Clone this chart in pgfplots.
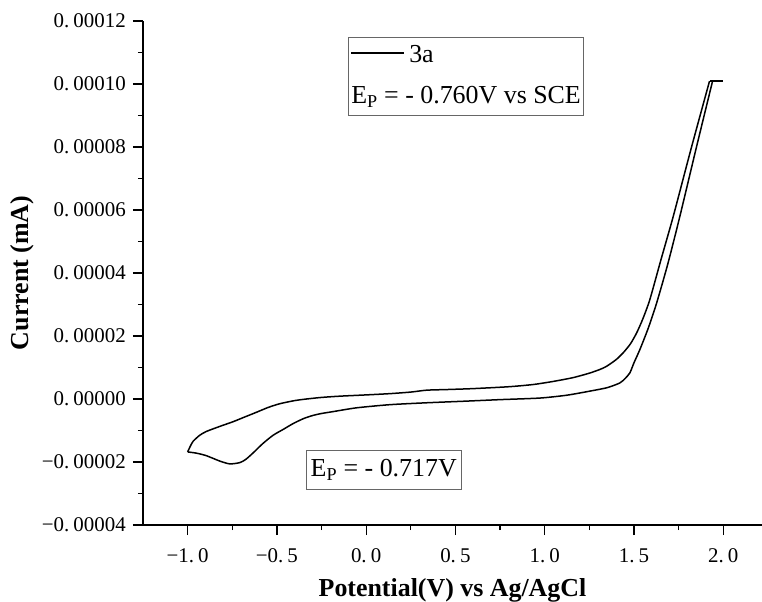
\documentclass[border=0pt]{standalone}
\usepackage{pgfplots}
\pgfplotsset{compat=1.18}
\usepackage{pgfplotstable}
\usepackage{fontspec}
\setmainfont{Liberation Serif}
\pgfplotstableread{
x y
-1.0 -1.68e-5
-0.985 -1.50e-5
-0.969 -1.34e-5
-0.932 -1.15e-5
-0.895 -1.03e-5
-0.82 -0.87e-5
-0.745 -0.72e-5
-0.68 -0.57e-5
-0.614 -0.42e-5
-0.55 -0.27e-5
-0.484 -0.15e-5
-0.40 -0.05e-5
-0.334 0.0
-0.25 0.05e-5
-0.147 0.09e-5
0.0 0.13e-5
0.133 0.17e-5
0.25 0.22e-5
0.338 0.28e-5
0.45 0.30e-5
0.6 0.33e-5
0.8 0.39e-5
0.936 0.46e-5
1.05 0.56e-5
1.16 0.68e-5
1.25 0.82e-5
1.31 0.94e-5
1.347 1.04e-5
1.40 1.25e-5
1.44 1.47e-5
1.48 1.75e-5
1.515 2.10e-5
1.55 2.55e-5
1.589 3.16e-5
1.65 4.40e-5
1.72 5.80e-5
1.82 7.95e-5
1.923 1.009e-4
}\uppertab
\pgfplotstableread{
x y
1.923 1.009e-4
1.998 1.009e-4
1.94 1.009e-4
}\toptab
\pgfplotstableread{
x y
1.94 1.009e-4
1.85 8.00e-5
1.757 5.80e-5
1.69 4.30e-5
1.627 3.05e-5
1.58 2.25e-5
1.533 1.57e-5
1.50 1.15e-5
1.477 0.83e-5
1.45 0.65e-5
1.421 0.51e-5
1.35 0.36e-5
1.253 0.25e-5
1.123 0.12e-5
0.973 0.03e-5
0.75 -0.02e-5
0.55 -0.07e-5
0.338 -0.12e-5
0.133 -0.18e-5
-0.054 -0.28e-5
-0.185 -0.40e-5
-0.25 -0.46e-5
-0.297 -0.52e-5
-0.35 -0.62e-5
-0.409 -0.78e-5
-0.46 -0.95e-5
-0.521 -1.15e-5
-0.58 -1.42e-5
-0.633 -1.71e-5
-0.675 -1.92e-5
-0.708 -2.02e-5
-0.764 -2.06e-5
-0.82 -1.97e-5
-0.895 -1.80e-5
-0.95 -1.72e-5
-1.0 -1.68e-5
}\lowertab
\begin{document}
\begin{tikzpicture}
\begin{axis}[
  scale only axis, width=619bp, height=504bp,
  xmin=-1.25, xmax=2.217, ymin=-0.00004, ymax=0.00012,
  axis lines*=left,
  axis line style={line width=1.2bp},
  tick style={black, line width=1.2bp},
  tick align=outside,
  major tick length=10bp, minor tick length=5bp,
  scaled ticks=false,
  xtick={-1,-0.5,0,0.5,1,1.5,2},
  xticklabels={−1.\hspace{0.2em}0,−0.\hspace{0.2em}5,0.\hspace{0.2em}0,0.\hspace{0.2em}5,1.\hspace{0.2em}0,1.\hspace{0.2em}5,2.\hspace{0.2em}0},
  minor xtick={-0.75,-0.25,0.25,0.75,1.25,1.75},
  ytick={-0.00004,-0.00002,0,0.00002,0.00004,0.00006,0.00008,0.0001,0.00012},
  yticklabels={−0.\hspace{0.2em}00004,−0.\hspace{0.2em}00002,0.\hspace{0.2em}00000,0.\hspace{0.2em}00002,0.\hspace{0.2em}00004,0.\hspace{0.2em}00006,0.\hspace{0.2em}00008,0.\hspace{0.2em}00010,0.\hspace{0.2em}00012},
  minor ytick={-0.00003,-0.00001,0.00001,0.00003,0.00005,0.00007,0.00009,0.00011},
  ticklabel style={font=\fontsize{21}{24}\selectfont, inner sep=0pt},
  yticklabel style={anchor=east, xshift=-7bp},
  xticklabel style={anchor=north, yshift=-13bp},
  xlabel={Potential(V) vs Ag/AgCl},
  ylabel={Current (mA)},
  label style={font=\fontsize{26}{28}\selectfont\bfseries},
  xlabel style={at={(axis description cs:0.5,-0.13)}, anchor=center},
  ylabel style={at={(axis description cs:-0.1955,0.5)}, anchor=center},
  clip=false,
]
\addplot[black, line width=1.5bp, smooth, tension=0.4] table[x=x,y=y] {\uppertab};
\addplot[black, line width=1.5bp] table[x=x,y=y] {\toptab};
\addplot[black, line width=1.5bp, smooth, tension=0.4] table[x=x,y=y] {\lowertab};
\node[draw=gray!80!black, line width=0.8bp, anchor=north west, inner xsep=3bp, inner ysep=8bp, align=left,
  font=\fontsize{26}{41}\selectfont] at (axis description cs:0.331,0.968)
  {\rule[0.33em]{53bp}{2.6bp}\hspace{5bp}3a\\E\textsubscript{P} = - 0.760V vs SCE};
\node[draw=gray!80!black, line width=0.8bp, anchor=north west, inner xsep=4.5bp, inner ysep=9bp,
  font=\fontsize{26}{28}\selectfont] at (axis description cs:0.263,0.149)
  {E\textsubscript{P} = - 0.717V};
\end{axis}
\path (current axis.south west) ++(-143bp,-77bp) coordinate (bl);
\path (current axis.north east) ++(0bp,21bp) coordinate (tr);
\pgfresetboundingbox
\path[use as bounding box] (bl) rectangle (tr);
\end{tikzpicture}
\end{document}
